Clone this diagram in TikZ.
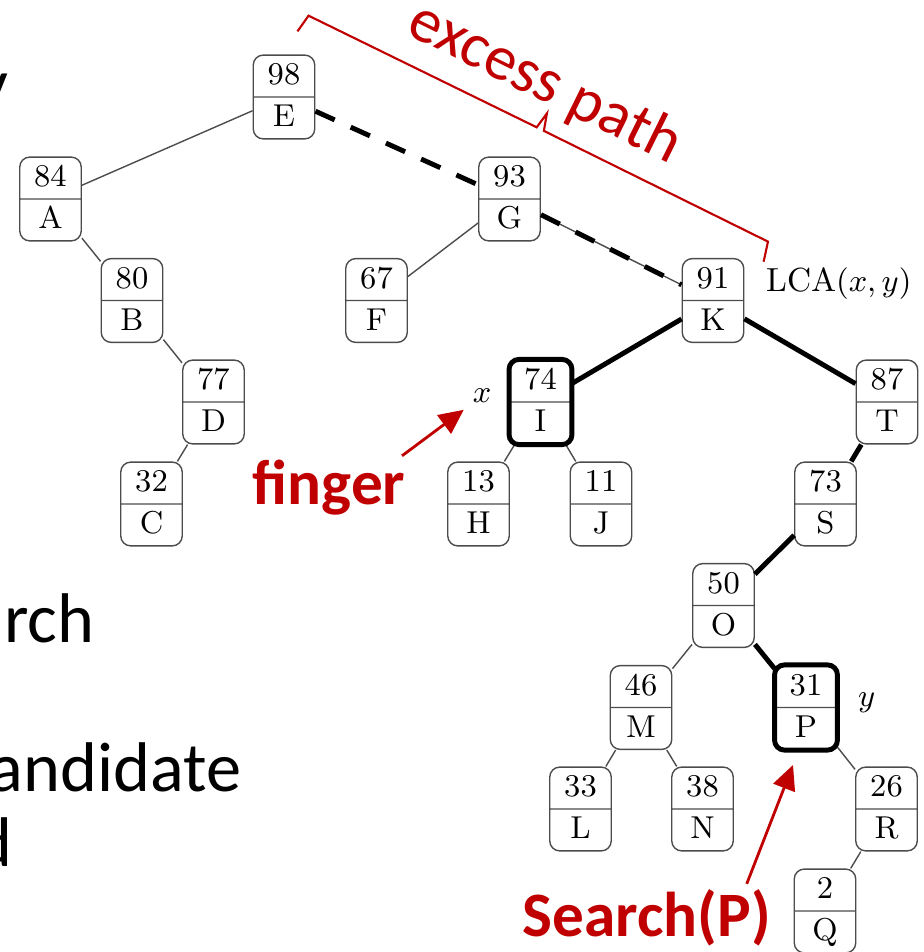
\documentclass[tikz,border=0pt]{standalone}
\usepackage{fontspec}
\usepackage{tikz}
\usetikzlibrary{arrows.meta,shapes,positioning}

\newfontfamily\slidefont{Carlito}
\definecolor{slidered}{HTML}{C00000}
% fixed height for each half of a heap node
\newcommand\heapstrut{\rule[-0.115cm]{0pt}{0.405cm}}

\begin{document}
\begin{tikzpicture}
        [
            heapnode/.style={rectangle split, rectangle split parts=2, draw=black!70, line width=0.4pt,
                rounded corners=1mm, minimum width=0.615cm, inner xsep=2pt, inner ysep=0pt, font=\small},
            heaplink/.style={draw=black!70, line width=0.4pt},
            pathlink/.style={line width=1.4pt},
            excesslink/.style={line width=1.4pt, dash pattern=on 6pt off 5pt},
            touched/.style={line width=1.4pt, rounded corners=1mm},
            varlabel/.style={inner sep=0pt, font=\fontsize{9.5}{11}\selectfont},
            redtext/.style={inner sep=0pt, text=slidered, font=\slidefont\bfseries\fontsize{18}{22}\selectfont},
            excesstext/.style={inner sep=0pt, text=slidered, font=\slidefont\fontsize{18}{22}\selectfont},
            pointer/.style={-{Triangle[length=7pt,width=6.5pt]}, slidered, line width=0.8pt},
            bracket/.style={draw=slidered, line width=0.6pt},
            slidetext/.style={inner sep=0pt, font=\slidefont\fontsize{20}{24}\selectfont},
        ]
            \clip (0,0) rectangle (9.24, 9.52);

            % left side of the slide, cut off
            \node[slidetext, anchor=base east] (frag1) at (0.09, 8.44) {y};
            \node[slidetext, anchor=base east] (frag2) at (0.95, 3.09) {rch};
            \node[slidetext, anchor=base east] (frag3) at (2.42, 1.60) {andidate};
            \node[slidetext, anchor=base east] (frag4) at (0.13, 0.85) {d};

            % heap
            \node[heapnode] (E) at (2.84, 8.55) {\heapstrut 98 \nodepart{two}\heapstrut E};
            \node[heapnode] (A) at (0.505, 7.53) {\heapstrut 84 \nodepart{two}\heapstrut A};
            \node[heapnode] (B) at (1.32, 6.515) {\heapstrut 80 \nodepart{two}\heapstrut B};
            \node[heapnode] (D) at (2.135, 5.50) {\heapstrut 77 \nodepart{two}\heapstrut D};
            \node[heapnode] (C) at (1.515, 4.48) {\heapstrut 32 \nodepart{two}\heapstrut C};
            \node[heapnode] (G) at (5.095, 7.53) {\heapstrut 93 \nodepart{two}\heapstrut G};
            \node[heapnode] (F) at (3.765, 6.515) {\heapstrut 67 \nodepart{two}\heapstrut F};
            \node[heapnode] (K) at (7.13, 6.515) {\heapstrut 91 \nodepart{two}\heapstrut K};
            \node[heapnode] (I) at (5.405, 5.50) {\heapstrut 74 \nodepart{two}\heapstrut I};
            \node[heapnode] (H) at (4.785, 4.48) {\heapstrut 13 \nodepart{two}\heapstrut H};
            \node[heapnode] (J) at (6.01, 4.48) {\heapstrut 11 \nodepart{two}\heapstrut J};
            \node[heapnode] (T) at (8.87, 5.50) {\heapstrut 87 \nodepart{two}\heapstrut T};
            \node[heapnode] (S) at (8.255, 4.48) {\heapstrut 73 \nodepart{two}\heapstrut S};
            \node[heapnode] (O) at (7.235, 3.465) {\heapstrut 50 \nodepart{two}\heapstrut O};
            \node[heapnode] (M) at (6.41, 2.445) {\heapstrut 46 \nodepart{two}\heapstrut M};
            \node[heapnode] (P) at (8.06, 2.445) {\heapstrut 31 \nodepart{two}\heapstrut P};
            \node[heapnode] (L) at (5.805, 1.43) {\heapstrut 33 \nodepart{two}\heapstrut L};
            \node[heapnode] (N) at (7.025, 1.43) {\heapstrut 38 \nodepart{two}\heapstrut N};
            \node[heapnode] (R) at (8.865, 1.43) {\heapstrut 26 \nodepart{two}\heapstrut R};
            \node[heapnode] (Q) at (8.25, 0.41) {\heapstrut 2 \nodepart{two}\heapstrut Q};

            \node[varlabel, right=0.21cm of K, yshift=0.17cm] (lca) {LCA$(x, y)$};
            \node[varlabel, left=0.17cm of I, yshift=0.06cm] (xlbl) {$x$};
            \node[varlabel, right=0.2cm of P, yshift=0.05cm] (ylbl) {$y$};

            \draw[heaplink] (E) -- (A);
            \draw[heaplink] (A) -- (B);
            \draw[heaplink] (B) -- (D);
            \draw[heaplink] (D) -- (C);
            \draw[heaplink] (G) -- (F);
            \draw[heaplink] (G) -- (K);
            \draw[heaplink] (I) -- (H);
            \draw[heaplink] (I) -- (J);
            \draw[heaplink] (O) -- (M);
            \draw[heaplink] (M) -- (L);
            \draw[heaplink] (M) -- (N);
            \draw[heaplink] (P) -- (R);
            \draw[heaplink] (R) -- (Q);

            \draw[pathlink] (K) -- (I);
            \draw[pathlink] (K) -- (T);
            \draw[pathlink] (T) -- (S);
            \draw[pathlink] (S) -- (O);
            \draw[pathlink] (O) -- (P);
            \draw[excesslink] (E) -- (G);
            \draw[excesslink] (G) -- (K);

            \draw[touched] (I.north west) rectangle (I.south east);
            \draw[touched] (P.north west) rectangle (P.south east);

            % annotations
            \begin{scope}[shift={([xshift=-0.18cm, yshift=0.23cm]E.north east)}, rotate=-26.3]
                \draw[bracket] (0,0) -- (0.03,0.19) -- (2.57,0.20) -- (2.60,0.37) -- (2.65,0.20)
                    -- (5.15,0.20) -- (5.20,0);
                \node[excesstext, anchor=base, rotate=-26.3] (excess) at (2.45, 0.46) {excess path};
            \end{scope}

            \node[redtext, anchor=base] (finger) at (3.29, 4.47) {finger};
            \node[redtext, anchor=base] (search) at (6.47, 0.15) {Search(P)};
            \coordinate (ptarget) at (7.93, 1.87);

            \draw[pointer, shorten >=3pt] ([xshift=-0.04cm, yshift=0.04cm]finger.north east) -- (xlbl.south west);
            \draw[pointer] ([xshift=-0.25cm, yshift=0.055cm]search.north east) -- (ptarget);
        \end{tikzpicture}
\end{document}
